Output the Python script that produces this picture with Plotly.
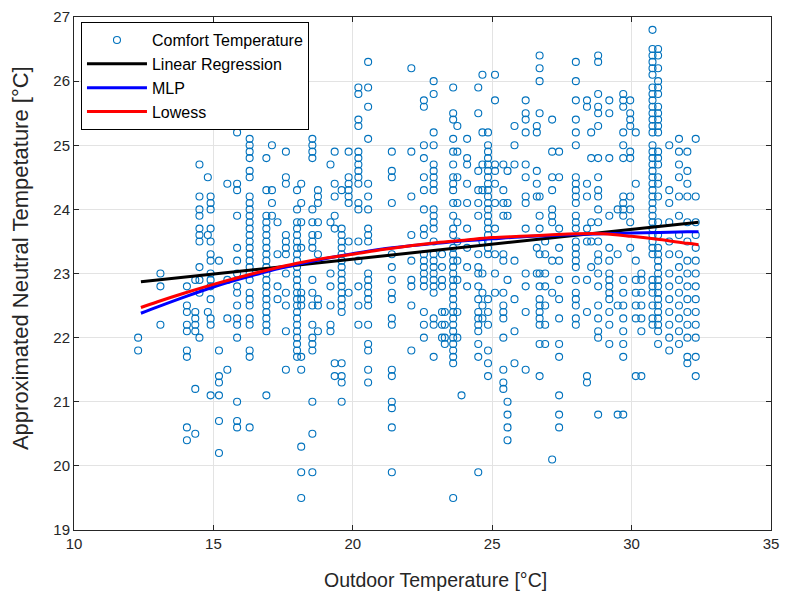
import plotly.graph_objects as go

# Outdoor temperature readings (°C); each one carries a group of comfort votes
outdoor_temp = [
    12.3, 13.1, 14.05, 14.35, 14.5, 14.8, 14.9, 15.2, 15.5, 15.85,
    16.3, 16.9, 17.1, 17.3, 17.6, 18.0, 18.15, 18.55, 18.75, 19.2,
    19.35, 19.6, 19.85, 20.2, 20.55, 21.4, 22.1, 22.55, 22.9, 23.2,
    23.3, 23.6, 23.75, 23.9, 24.1, 24.5, 24.65, 24.85, 25.1, 25.4,
    25.55, 25.8, 26.2, 26.6, 26.7, 26.9, 27.15, 27.4, 28.0, 28.4,
    28.55, 28.8, 29.2, 29.5, 29.7, 29.95, 30.15, 30.35, 30.75, 30.95,
    31.35, 31.7, 32.0, 32.3,
]

# Approximated neutral temperatures (°C) recorded at each outdoor reading
neutral_temp = [
    [22.0, 21.8],
    [23.0, 22.8, 22.2],
    [22.8, 22.5, 22.4, 22.2, 22.1, 21.8, 21.7, 20.6, 20.4],
    [22.9, 22.4, 22.3, 22.2, 22.1, 21.2, 20.5],
    [24.7, 24.2, 24.0, 23.9, 23.7, 23.6, 23.5, 23.1, 22.9, 22.7, 22.0],
    [24.5, 23.6, 22.4],
    [24.2, 24.1, 24.0, 23.7, 23.5, 23.3, 23.2, 23.0, 22.9, 22.8, 22.6, 22.3, 22.2, 21.1],
    [23.2, 21.8, 21.4, 21.3, 21.1, 20.7, 20.2],
    [24.4, 22.9, 22.3, 21.5],
    [25.2, 24.4, 24.3, 23.9, 23.4, 23.2, 23.0, 22.8, 22.7, 22.5, 22.3, 22.2, 22.0, 21.0, 20.7, 20.6],
    [25.1, 25.0, 24.9, 24.8, 24.6, 24.5, 24.2, 24.1, 24.0, 23.9, 23.8, 23.7, 23.6, 23.5,
     23.4, 23.3, 23.2, 23.1, 23.0, 22.9, 22.7, 22.6, 22.5, 22.3, 22.2, 21.8, 21.7, 20.6],
    [24.8, 24.3, 23.9, 23.8, 23.7, 23.6, 23.5, 23.4, 23.3, 23.2, 23.1, 23.0, 22.9, 22.8,
     22.7, 22.6, 22.5, 22.4, 22.3, 22.2, 22.1, 21.1],
    [25.0, 24.3, 24.1, 23.9],
    [23.8, 23.3, 22.8, 22.6],
    [24.9, 24.5, 24.4, 23.6, 23.5, 23.4, 23.3, 23.0, 22.7, 22.5, 22.1, 21.5],
    [24.3, 24.0, 23.8, 23.7, 23.6, 23.5, 23.4, 23.3, 23.2, 23.1, 23.0, 22.9, 22.8, 22.7,
     22.6, 22.5, 22.4, 22.3, 22.2, 22.1, 22.0, 21.9, 21.8, 21.7],
    [24.4, 24.1, 23.8, 23.4, 22.7, 22.6, 22.5, 21.7, 21.5, 20.3, 19.9, 19.5],
    [25.1, 25.0, 24.9, 24.8, 24.0, 23.8, 23.6, 23.5, 23.4, 22.9, 22.7, 22.5, 22.2, 22.0,
     21.9, 21.8, 21.0, 20.5, 19.9],
    [24.3, 24.2, 24.1, 23.8, 23.6, 23.3, 22.6, 22.5, 22.1],
    [24.7, 23.8, 23.0, 22.8, 22.5, 22.2, 22.1],
    [24.9, 24.4, 24.2, 23.9, 23.7, 21.6, 21.4],
    [24.3, 23.7, 23.6, 23.5, 23.4, 23.3, 23.2, 23.1, 23.0, 22.9, 22.8, 22.7, 22.6, 22.5,
     22.4, 21.6, 21.4, 21.3, 21.0],
    [24.9, 24.5, 24.4, 24.3, 24.2, 24.1, 23.5, 22.7],
    [25.9, 25.8, 25.4, 25.3, 24.9, 24.8, 24.7, 24.6, 24.5, 24.4, 24.1, 24.0, 23.5, 23.2,
     22.8, 22.5, 22.2],
    [26.3, 25.9, 25.6, 25.1, 24.4, 24.2, 24.0, 23.7, 23.6, 23.5, 23.0, 22.9, 22.8, 22.7,
     22.6, 22.5, 22.2, 21.9, 21.8, 21.5, 21.3],
    [24.9, 24.6, 24.5, 24.1, 23.3, 23.1, 22.9, 22.7, 22.6, 22.3, 22.2, 21.5, 21.4, 21.0,
     20.9, 20.6, 19.9],
    [26.2, 24.9, 24.2, 23.6, 23.2, 22.9, 22.8, 22.5, 21.8],
    [25.7, 25.6, 25.0, 24.8, 24.5, 24.3, 24.0, 23.7, 23.6, 23.3, 23.2, 23.1, 23.0, 22.9,
     22.8, 22.4, 22.2, 22.0],
    [26.0, 25.8, 25.2, 25.0, 24.7, 24.6, 24.5, 24.4, 24.3, 24.0, 23.9, 23.8, 23.7, 23.5,
     23.3, 23.2, 23.1, 23.0, 22.9, 22.8, 22.7, 22.3, 22.2, 21.7],
    [23.3, 23.1, 22.9, 22.8, 22.4, 22.2, 22.0],
    [22.4, 22.2, 22.0, 21.9],
    [25.9, 25.5, 25.4, 25.1, 24.9, 24.7, 24.5, 24.4, 24.3, 24.1, 23.9, 23.7, 23.6, 23.4,
     23.3, 23.2, 23.1, 23.0, 22.9, 22.8, 22.7, 22.6, 22.5, 22.4, 22.3, 22.2, 22.1, 22.0,
     21.9, 21.8, 21.7, 21.6, 19.5],
    [25.3, 24.9, 24.5, 24.1, 23.8, 23.5, 23.2, 22.9, 22.4, 22.0],
    [21.1],
    [25.1, 24.8, 24.7, 24.4, 24.1, 23.7, 23.4, 23.1, 22.8],
    [25.9, 25.5, 24.6, 24.3, 24.1, 23.9, 23.3, 23.1, 23.0, 22.8, 22.6, 22.4, 22.3, 22.2,
     22.1, 21.9, 21.7, 19.9],
    [26.1, 25.2, 24.7, 24.3, 23.5, 23.0, 22.7, 22.5, 22.3],
    [25.2, 25.0, 24.9, 24.8, 24.7, 24.6, 24.5, 24.4, 24.3, 24.2, 24.1, 24.0, 23.9, 23.8,
     23.7, 23.6, 23.5, 23.4, 23.3, 22.6, 22.4, 22.2, 21.8, 21.6, 21.4],
    [26.1, 25.7, 24.7, 24.6, 24.4, 24.1, 23.7, 23.3, 23.0, 22.7],
    [24.7, 24.3, 24.1, 23.9, 23.3, 23.2, 22.7, 22.5, 22.4, 22.3, 22.0, 21.5, 21.3, 21.2],
    [24.6, 24.1, 23.9, 22.9, 21.0, 20.8, 20.6, 20.4],
    [25.3, 25.0, 24.7, 23.2, 22.6, 22.1, 21.6],
    [25.7, 25.5, 25.4, 25.2, 24.7, 24.5, 24.2, 24.1, 23.7, 23.0, 22.8, 22.4, 21.5],
    [25.3, 25.2, 24.6, 24.4, 24.2, 23.4, 23.0],
    [26.4, 26.2, 26.0, 25.5, 24.2, 23.9, 23.7, 23.3, 23.0, 22.8, 22.6, 22.5, 22.4, 22.3,
     22.2, 21.9, 21.4],
    [23.5, 23.3, 23.0, 22.8, 22.5, 22.2, 21.9],
    [25.4, 24.9, 24.5, 24.3, 24.0, 23.9, 23.8, 23.2, 22.7, 20.1],
    [24.9, 24.5, 23.7, 23.4, 23.2, 22.9, 22.6, 22.3, 21.9, 21.7, 21.1, 20.8, 20.6],
    [26.3, 26.0, 25.7, 25.4, 25.2, 25.0, 24.5, 24.4, 24.3, 24.2, 24.1, 23.9, 23.8, 23.7,
     23.5, 23.4, 23.3, 23.2, 23.1, 22.9, 22.7, 22.6, 22.5, 22.3, 22.2],
    [25.7, 25.6, 24.4, 24.2, 23.7, 23.5, 22.9, 22.4, 21.4, 21.3],
    [25.2, 24.8, 23.8, 23.5, 23.1],
    [26.4, 26.3, 25.8, 25.6, 25.5, 25.3, 24.8, 24.5, 24.3, 24.2, 24.0, 23.8, 23.5, 23.3,
     23.2, 23.0, 22.8, 22.5, 22.3, 22.1, 22.0, 20.8],
    [25.7, 25.5, 24.8, 23.9, 23.4, 23.2, 23.0, 22.9, 22.8, 22.7, 22.6, 22.4, 22.2, 21.9],
    [24.0, 23.3, 22.5, 20.8],
    [25.8, 25.7, 25.6, 25.2, 25.0, 24.8, 24.2, 24.1, 24.0, 23.9, 22.9, 22.7, 22.5, 22.3,
     22.1, 21.9, 21.7, 20.8],
    [25.7, 25.5, 25.4, 25.3, 24.9, 24.8, 24.2, 24.0, 23.8, 23.4],
    [25.2, 24.4, 23.2, 22.9, 22.7, 22.5, 22.3, 21.4],
    [23.0, 22.9, 22.7, 22.5, 22.3, 22.1, 21.4],
    [26.8, 26.5, 26.4, 26.3, 26.2, 26.1, 25.9, 25.8, 25.7, 25.6, 25.5, 25.4, 25.3, 25.2,
     25.0, 24.9, 24.8, 24.7, 24.6, 24.5, 24.4, 24.3, 24.2, 24.1, 24.0, 23.9, 23.8, 23.7,
     23.6, 23.5, 23.4, 23.3, 22.9, 22.8, 22.7, 22.5, 22.3, 22.2],
    [26.5, 26.4, 26.2, 26.0, 25.9, 25.8, 25.6, 25.5, 25.4, 25.3, 25.2, 24.9, 24.8, 24.7,
     24.5, 24.4, 24.2, 23.8, 23.6, 23.4, 23.3, 23.2, 23.1, 23.0, 22.9, 22.8, 22.7, 22.6,
     22.5, 22.4, 22.3, 22.2, 22.1, 21.9],
    [25.0, 24.3, 24.1, 23.8, 23.5, 23.3, 23.0, 22.8, 22.6, 22.4, 22.2, 22.0, 21.8],
    [25.1, 24.9, 24.7, 24.5, 24.2, 23.9, 23.6, 23.3, 23.1, 22.9, 22.7, 22.5, 22.3, 22.1, 21.9],
    [24.9, 24.6, 24.4, 24.2, 23.8, 23.5, 23.2, 23.0, 22.8, 22.6, 22.4, 22.2, 22.0, 21.7, 21.6],
    [25.1, 24.2, 23.8, 23.6, 23.4, 23.2, 23.0, 22.8, 22.6, 22.4, 22.2, 22.0, 21.7, 21.4],
]

# Fitted models evaluated along the outdoor temperature range
linreg_x = [12.4, 32.4]
linreg_y = [22.87, 23.80]

fit_x = [12.4, 13, 14, 15, 16, 17, 18, 19, 20, 21, 22, 23, 24, 25, 26, 27, 28, 29, 30, 31, 32, 32.4]
mlp_y = [22.38, 22.48, 22.64, 22.79, 22.92, 23.04, 23.14, 23.23, 23.31, 23.38, 23.43, 23.47,
         23.51, 23.54, 23.57, 23.59, 23.61, 23.62, 23.63, 23.64, 23.65, 23.65]
lowess_y = [22.47, 22.56, 22.70, 22.83, 22.95, 23.06, 23.16, 23.24, 23.30, 23.37, 23.43, 23.48,
            23.52, 23.56, 23.58, 23.60, 23.62, 23.62, 23.58, 23.53, 23.47, 23.45]

x_ticks = [10, 15, 20, 25, 30, 35]
y_ticks = [19, 20, 21, 22, 23, 24, 25, 26, 27]

x_title = "Outdoor Temperature [°C]"
y_title = "Approximated Neutral Tempetature [°C]"

scatter_x = [x for x, ys in zip(outdoor_temp, neutral_temp) for _ in ys]
scatter_y = [y for ys in neutral_temp for y in ys]

FONT = "Liberation Sans, Arial, Helvetica, sans-serif"
AXIS_COLOR = "#262626"
GRID_COLOR = "#e3e3e3"

fig = go.Figure()
fig.add_trace(go.Scatter(
    x=scatter_x, y=scatter_y, mode="markers", name="Comfort Temperature",
    marker=dict(symbol="circle-open", size=7, color="#0072BD", line=dict(width=1.1, color="#0072BD")),
))
fig.add_trace(go.Scatter(
    x=linreg_x, y=linreg_y, mode="lines", name="Linear Regression",
    line=dict(color="black", width=3),
))
fig.add_trace(go.Scatter(
    x=fit_x, y=mlp_y, mode="lines", name="MLP", line=dict(color="#0000FF", width=3, shape="spline"),
))
fig.add_trace(go.Scatter(
    x=fit_x, y=lowess_y, mode="lines", name="Lowess", line=dict(color="#FF0000", width=3, shape="spline"),
))

axis_common = dict(
    showgrid=True, gridcolor=GRID_COLOR, gridwidth=1,
    showline=True, linecolor=AXIS_COLOR, linewidth=1, mirror="ticks",
    ticks="inside", ticklen=5, tickcolor=AXIS_COLOR,
    tickfont=dict(family=FONT, size=15, color=AXIS_COLOR),
    zeroline=False, automargin=False,
)

fig.update_layout(
    width=785, height=592,
    margin=dict(l=74, r=14, t=17, b=62),
    paper_bgcolor="white", plot_bgcolor="white",
    font=dict(family=FONT, color=AXIS_COLOR),
    xaxis=dict(range=[10, 35], tickvals=x_ticks, **axis_common),
    yaxis=dict(range=[19, 27], tickvals=y_ticks, **axis_common),
    legend=dict(x=0.01, y=0.99, xanchor="left", yanchor="top",
                bgcolor="white", bordercolor="black", borderwidth=1,
                font=dict(family=FONT, size=16, color="black"),
                itemwidth=60, tracegroupgap=0),
    showlegend=True,
)

# Axis titles placed as paper-anchored annotations
fig.add_annotation(text=x_title, xref="paper", yref="paper", x=0.518, y=-0.0975,
                   xanchor="center", yanchor="middle", showarrow=False,
                   font=dict(family=FONT, size=19.5, color=AXIS_COLOR))
fig.add_annotation(text=y_title, xref="paper", yref="paper", x=-0.0775, y=0.53,
                   xanchor="center", yanchor="middle", showarrow=False, textangle=-90,
                   font=dict(family=FONT, size=22, color=AXIS_COLOR))

fig.write_html("out.html")
